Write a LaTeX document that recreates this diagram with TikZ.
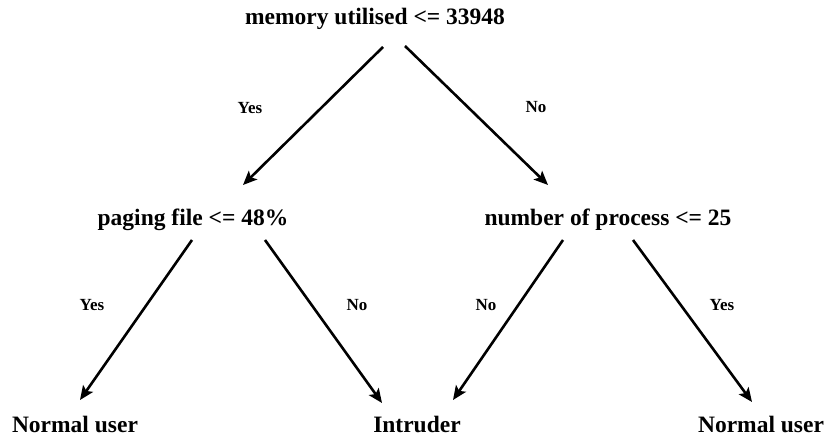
\documentclass[tikz,border=0pt]{standalone}
\usepackage{fontspec}
\setmainfont{Liberation Serif}
\usetikzlibrary{arrows.meta,calc}
\begin{document}
\begin{tikzpicture}[x=1pt,y=1pt,
  cond/.style={font=\fontsize{23.5}{26}\selectfont\bfseries, inner sep=0pt, anchor=base},
  leaf/.style={font=\fontsize{23.5}{26}\selectfont\bfseries, inner sep=0pt, anchor=base},
  lbl/.style={font=\fontsize{17}{19}\selectfont\bfseries, inner sep=0pt},
  arr/.style={line width=2.6pt, -{Stealth[length=14pt,width=12pt,inset=3pt]}}]
\useasboundingbox (0,0) rectangle (829,438);
% nodes
\node[cond] (root) at (375,413) {memory utilised <= 33948};
\node[cond] (pag)  at (193,212) {paging file <= 48\%};
\node[cond] (num)  at (608,212) {number of process <= 25};
\node[leaf] (L) at (75,5)  {Normal user};
\node[leaf] (I) at (417,5) {Intruder};
\node[leaf] (R) at (761,5) {Normal user};
% connectors
\draw[arr] ($(root.base)+(8,-22)$)  -- ($(pag.base)+(50,41)$);
\draw[arr] ($(root.base)+(30,-21)$) -- ($(num.base)+(-60,41)$);
\draw[arr] ($(pag.base)+(-1,-14)$)  -- ($(L.base)+(5,33)$);
\draw[arr] ($(pag.base)+(72,-14)$)  -- ($(I.base)+(-35,30)$);
\draw[arr] ($(num.base)+(-45,-14)$) -- ($(I.base)+(36,33)$);
\draw[arr] ($(num.base)+(25,-14)$)  -- ($(R.base)+(-9,31)$);
% labels
\node[lbl] (y1) at (250,330) {Yes};
\node[lbl] (n1) at (536,331) {No};
\node[lbl] (y2) at (92,133)  {Yes};
\node[lbl] (n2) at (357,133) {No};
\node[lbl] (n3) at (486,133) {No};
\node[lbl] (y3) at (722,133) {Yes};
\end{tikzpicture}
\end{document}
